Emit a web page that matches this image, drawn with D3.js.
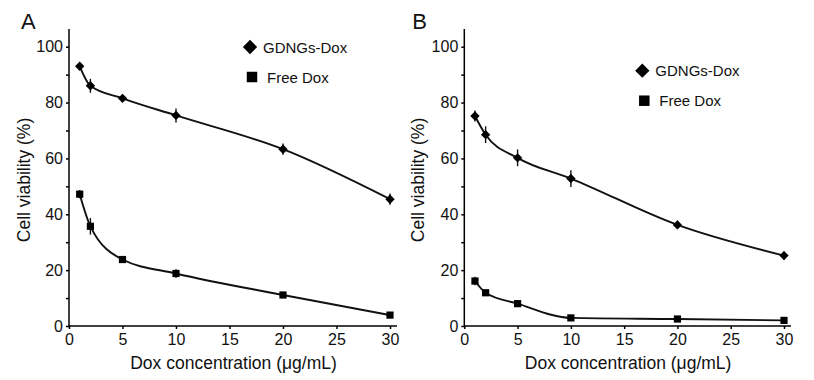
<!DOCTYPE html>
<html>
<head>
<meta charset="utf-8">
<script src="https://cdn.jsdelivr.net/npm/d3@7"></script>
<style>
  body { margin: 0; background: #fff; }
  svg { font-family: "Liberation Sans", Arial, sans-serif; }
</style>
</head>
<body>
<div id="chart"></div>
<script>

var doses = [1, 2, 5, 10, 20, 30];
var xTicks = [0, 5, 10, 15, 20, 25, 30];
var yTicks = [0, 20, 40, 60, 80, 100];
var yMinor = [10, 30, 50, 70, 90];
var seriesNames = ['GDNGs-Dox', 'Free Dox'];

// panel A
var gdngsA = [93, 86, 81.5, 75.4, 63.3, 45.4];
var gdngsErrA = [1, 2.5, 1, 2.5, 2, 2];
var freeA = [47.2, 35.7, 23.8, 18.8, 11.1, 3.9];
var freeErrA = [1.5, 3, 1, 1.5, 0.8, 0.6];

// panel B
var gdngsB = [75.2, 68.5, 60.2, 52.8, 36.2, 25.2];
var gdngsErrB = [2, 3, 3, 3, 1.5, 1.5];
var freeB = [16.1, 11.9, 8, 2.9, 2.5, 2];
var freeErrB = [1.5, 0.8, 0.6, 0.5, 0.4, 0.4];

var svg = d3.select('#chart').append('svg')
    .attr('width', 814)
    .attr('height', 380);

function drawPanel(opts){

    var g = svg.append('g').attr('transform', 'translate(' + opts.left + ',0)');

    var x = d3.scaleLinear().domain([0, 30]).range([0, opts.w]);
    var y = d3.scaleLinear().domain([0, 100]).range([326, 46.7]);

    // axes
    g.append('g')
        .attr('transform', 'translate(0,326)')
        .call(d3.axisBottom(x).tickValues(xTicks).tickSize(3).tickSizeOuter(0))
        .call(a => a.select('.domain').attr('d', 'M0,0H' + (opts.w + 7)))
        .call(a => a.selectAll('line, path').attr('stroke', '#000').attr('stroke-width', 1.5))
        .call(a => a.selectAll('text').attr('font-size', 16).attr('fill', '#111').attr('dy', '1.0em').attr('y', 3));

    g.append('g')
        .call(d3.axisLeft(y).tickValues(yTicks.concat(yMinor)).tickSize(3).tickSizeOuter(0)
            .tickFormat(d => yTicks.indexOf(d) >= 0 ? d : ''))
        .call(a => a.select('.domain').attr('d', 'M0,326V29'))
        .call(a => a.selectAll('line, path').attr('stroke', '#000').attr('stroke-width', 1.5))
        .call(a => a.selectAll('text').attr('font-size', 16).attr('fill', '#111').attr('x', -6));

    g.append('text')
        .attr('x', x(15) + 4)
        .attr('y', 369)
        .attr('text-anchor', 'middle')
        .attr('font-size', 17.5)
        .attr('fill', '#111')
        .text('Dox concentration (μg/mL)');

    g.append('text')
        .attr('transform', 'translate(' + (-opts.left + opts.ylabX) + ',180) rotate(-90)')
        .attr('text-anchor', 'middle')
        .attr('font-size', 17.5)
        .attr('fill', '#111')
        .text('Cell viability (%)');

    g.append('text')
        .attr('x', opts.labX)
        .attr('y', 29)
        .attr('font-size', 22)
        .attr('fill', '#111')
        .text(opts.label);

    var line = d3.line()
        .x(d => x(d.x))
        .y(d => y(d.y))
        .curve(d3.curveMonotoneX);

    var sets = [
        {vals: opts.top, err: opts.topErr, sym: d3.symbolDiamond2, size: 56},
        {vals: opts.bot, err: opts.botErr, sym: d3.symbolSquare, size: 52}
    ];

    sets.forEach(function(s){
        var pts = doses.map((d, i) => ({x: d, y: s.vals[i], e: s.err[i]}));

        g.append('path')
            .attr('fill', 'none')
            .attr('stroke', '#111')
            .attr('stroke-width', 1.9)
            .attr('d', line(pts));

        g.selectAll(null)
            .data(pts)
            .join('line')
            .attr('x1', d => x(d.x))
            .attr('x2', d => x(d.x))
            .attr('y1', d => y(d.y - d.e))
            .attr('y2', d => y(d.y + d.e))
            .attr('stroke', '#111')
            .attr('stroke-width', 1.4);

        g.selectAll(null)
            .data(pts)
            .join('path')
            .attr('transform', d => 'translate(' + x(d.x) + ',' + y(d.y) + ')')
            .attr('d', d3.symbol(s.sym, s.size))
            .attr('fill', '#000');
    });

    // legend
    var leg = g.append('g').attr('transform', 'translate(' + opts.legX + ',' + opts.legY + ')');
    leg.append('path')
        .attr('d', d3.symbol(d3.symbolDiamond2, 130))
        .attr('fill', '#000');
    leg.append('text')
        .attr('x', 13).attr('y', 5.5)
        .attr('font-size', 15)
        .attr('fill', '#111')
        .text(seriesNames[0]);
    leg.append('path')
        .attr('transform', 'translate(2,30)')
        .attr('d', d3.symbol(d3.symbolSquare, 110))
        .attr('fill', '#000');
    leg.append('text')
        .attr('x', 17).attr('y', 35.5)
        .attr('font-size', 15)
        .attr('fill', '#111')
        .text(seriesNames[1]);
}

drawPanel({
    left: 69, w: 321, label: 'A', labX: -48, ylabX: 30,
    top: gdngsA, topErr: gdngsErrA, bot: freeA, botErr: freeErrA,
    legX: 181, legY: 47
});

drawPanel({
    left: 464.3, w: 319.7, label: 'B', labX: -52, ylabX: 424,
    top: gdngsB, topErr: gdngsErrB, bot: freeB, botErr: freeErrB,
    legX: 178, legY: 70.7
});

</script>
</body>
</html>
